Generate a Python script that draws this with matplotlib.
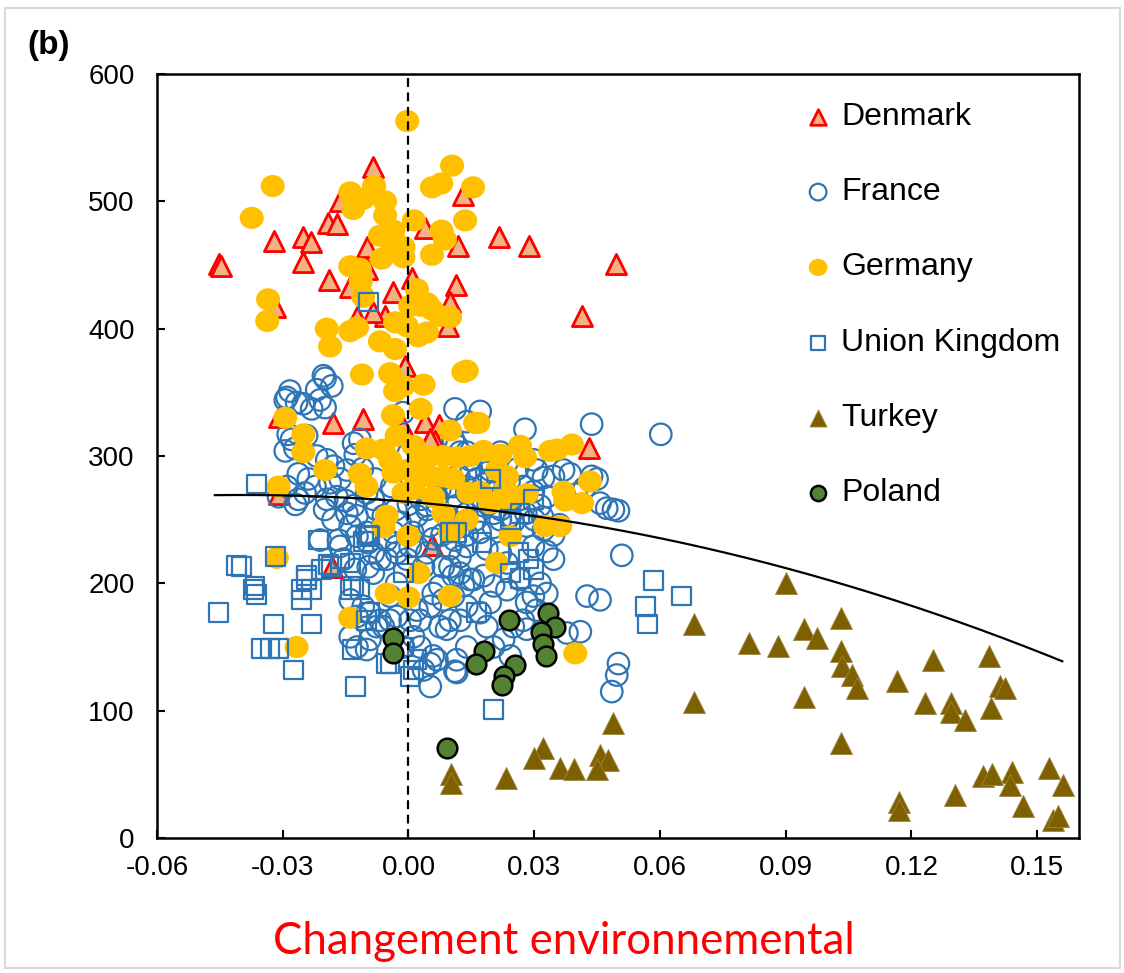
import matplotlib
matplotlib.use('Agg')
import numpy as np
import matplotlib.pyplot as plt
from matplotlib.patches import Rectangle
from matplotlib.path import Path

plt.rcParams['font.family'] = ['Liberation Sans', 'DejaVu Sans']

# environmental change (x) vs. value (y) per country
denmark_x = [-0.0085, 0.0131, -0.0163, -0.0191, -0.0171, 0.0040, -0.0321, -0.0252, -0.0232, 0.0119,
             -0.0100, -0.0451, -0.0448, -0.0252, -0.0098, -0.0190, 0.0008, 0.0114, -0.0036, -0.0139,
             0.0099, -0.0318, -0.0123, -0.0056, -0.0084, 0.0095, 0.0215, 0.0288, 0.0495, 0.0414,
             -0.0008, -0.0310, -0.0181, -0.0109, -0.0013, 0.0040, 0.0074, 0.0050, 0.0063, -0.0310,
             -0.0183, 0.0056, 0.0431, 0.0052]
denmark_y = [527, 505, 500, 483, 482, 479, 469, 472, 468, 465,
             464, 451, 449, 452, 447, 438, 440, 434, 429, 433,
             421, 417, 409, 410, 413, 402, 472, 465, 451, 410,
             371, 331, 326, 329, 323, 327, 324, 312, 312, 270,
             213, 230, 306, 313]

france_x = [-0.0199, -0.0183, -0.0283, -0.0294, -0.0267, -0.0211, -0.0199, -0.0231, -0.0219, -0.0251,
            0.0111, -0.0013, -0.0279, -0.0294, -0.0271, -0.0243, -0.0287, -0.0219, -0.0195, -0.0179,
            -0.0131, -0.0116, -0.0127, -0.0263, -0.0239, -0.0223, -0.0247, -0.0263, -0.0187, -0.0163,
            -0.0147, -0.0195, -0.0171, -0.0131, -0.0147, -0.0123, -0.0100, -0.0084, -0.0076, -0.0060,
            -0.0139, -0.0123, -0.0100, -0.0211, -0.0167, -0.0163, -0.0096, -0.0084, -0.0068, -0.0052,
            -0.0036, -0.0028, -0.0127, -0.0096, -0.0084, -0.0155, -0.0052, -0.0028, 0.0004, 0.0020,
            0.0044, 0.0059, 0.0044, 0.0068, 0.0091, 0.0115, 0.0139, 0.0044, 0.0075, 0.0107,
            0.0139, 0.0107, 0.0123, 0.0147, 0.0036, 0.0083, 0.0107, 0.0075, -0.0004, 0.0171,
            0.0139, 0.0278, 0.0437, 0.0115, 0.0139, 0.0219, 0.0235, 0.0195, 0.0298, 0.0306,
            0.0322, 0.0346, 0.0370, 0.0386, 0.0437, 0.0274, 0.0298, 0.0330, 0.0314, 0.0457,
            0.0473, 0.0489, 0.0501, 0.0509, 0.0139, 0.0163, 0.0187, 0.0163, 0.0179, 0.0203,
            0.0243, 0.0266, 0.0219, 0.0243, 0.0282, 0.0322, 0.0346, 0.0171, 0.0203, 0.0298,
            0.0330, 0.0346, 0.0099, 0.0123, 0.0139, 0.0187, 0.0219, 0.0235, 0.0099, 0.0123,
            0.0147, 0.0179, 0.0203, 0.0235, 0.0266, 0.0314, 0.0330, 0.0426, 0.0020, 0.0044,
            0.0068, 0.0602, 0.0457, 0.0501, 0.0497, 0.0485, 0.0410, 0.0378, 0.0298, 0.0282,
            0.0306, 0.0274, 0.0250, 0.0282, 0.0227, 0.0203, 0.0243, 0.0187, 0.0171, 0.0195,
            0.0139, 0.0123, 0.0131, 0.0155, 0.0139, 0.0115, 0.0111, 0.0052, 0.0052, 0.0059,
            0.0036, 0.0091, 0.0075, 0.0099, 0.0020, 0.0004, 0.0028, 0.0052, 0.0012, -0.0012,
            0.0028, 0.0059, 0.0083, 0.0107, -0.0044, -0.0060, -0.0139, -0.0108, -0.0123, -0.0092,
            -0.0068, -0.0076, -0.0139, -0.0123, -0.0100, -0.0092, -0.0028, 0.0068, 0.0115, -0.0028,
            -0.0044, 0.0000, 0.0030, 0.0060, 0.0080, 0.0120, 0.0150, 0.0180, 0.0210, 0.0240,
            0.0260, 0.0100, 0.0130, 0.0160, 0.0190, 0.0220, 0.0250, -0.0030, -0.0060, -0.0020,
            0.0010, 0.0050, 0.0080, 0.0110, 0.0140, -0.0150, -0.0180, -0.0200, -0.0080, -0.0040,
            -0.0110, 0.0280, 0.0300, 0.0320, 0.0360, 0.0400, 0.0420, -0.0290, -0.0310, -0.0270,
            0.0000, 0.0030, -0.0203, -0.0290, 0.0450]
france_y = [361, 355, 351, 344, 342, 344, 338, 337, 352, 341,
            337, 334, 313, 304, 306, 316, 317, 300, 297, 292,
            310, 313, 301, 286, 282, 276, 271, 266, 279, 282,
            289, 266, 268, 261, 255, 253, 271, 266, 258, 253,
            245, 237, 240, 234, 234, 229, 232, 224, 219, 234,
            240, 229, 211, 213, 208, 219, 219, 224, 229, 229,
            224, 235, 258, 263, 253, 261, 255, 271, 274, 276,
            271, 313, 303, 297, 213, 213, 206, 198, 219, 335,
            327, 321, 325, 308, 303, 303, 295, 289, 297, 289,
            283, 284, 289, 286, 284, 276, 272, 268, 261, 263,
            259, 258, 257, 222, 276, 282, 287, 266, 261, 255,
            263, 266, 250, 253, 245, 242, 238, 240, 244, 229,
            225, 219, 227, 221, 229, 227, 224, 216, 213, 208,
            203, 206, 198, 195, 203, 200, 192, 190, 253, 261,
            268, 317, 187, 137, 128, 115, 162, 161, 190, 185,
            179, 171, 166, 164, 156, 150, 143, 166, 177, 185,
            182, 171, 198, 203, 150, 140, 131, 119, 137, 143,
            132, 164, 166, 171, 179, 171, 171, 182, 158, 150,
            150, 192, 187, 190, 171, 166, 187, 182, 174, 177,
            171, 166, 158, 150, 148, 156, 174, 140, 130, 200,
            190, 262, 266, 275, 282, 285, 290, 278, 272, 280,
            290, 250, 245, 250, 262, 258, 248, 258, 245, 248,
            240, 245, 238, 234, 238, 265, 250, 258, 282, 276,
            290, 255, 250, 252, 246, 270, 275, 276, 268, 262,
            302, 294, 363, 346, 282]

germany_x = [-0.0003, -0.0324, -0.0374, 0.0104, 0.0056, 0.0078, 0.0154, -0.0139, -0.0082, -0.0108,
             -0.0132, -0.0056, -0.0056, 0.0013, 0.0135, 0.0079, 0.0087, -0.0068, -0.0036, -0.0012,
             -0.0012, -0.0064, -0.0037, 0.0056, -0.0139, -0.0116, -0.0114, -0.0335, -0.0337, -0.0108,
             0.0020, 0.0044, 0.0028, 0.0004, 0.0099, 0.0075, -0.0032, -0.0004, -0.0139, -0.0123,
             -0.0195, -0.0187, -0.0068, -0.0032, 0.0023, 0.0044, 0.0056, -0.0111, -0.0044, -0.0032,
             -0.0012, 0.0036, 0.0131, 0.0139, -0.0037, 0.0029, -0.0294, -0.0251, -0.0251, -0.0199,
             -0.0100, -0.0060, -0.0044, -0.0028, 0.0012, 0.0028, 0.0052, 0.0083, 0.0099, 0.0147,
             0.0159, -0.0116, -0.0100, -0.0036, -0.0004, 0.0020, 0.0052, 0.0083, 0.0107, -0.0310,
             -0.0012, 0.0012, 0.0059, 0.0143, -0.0052, -0.0060, 0.0000, 0.0083, 0.0099, 0.0107,
             -0.0314, 0.0167, 0.0179, 0.0219, 0.0266, 0.0278, 0.0338, 0.0354, 0.0390, 0.0115,
             0.0235, 0.0231, 0.0238, 0.0370, 0.0374, 0.0414, 0.0433, 0.0282, 0.0195, 0.0171,
             0.0139, 0.0243, 0.0326, 0.0362, 0.0211, 0.0211, -0.0267, -0.0139, -0.0052, 0.0000,
             0.0024, 0.0099, 0.0398]
germany_y = [563, 512, 487, 528, 511, 514, 511, 507, 512, 502,
             494, 500, 489, 485, 485, 477, 470, 473, 477, 464,
             456, 455, 465, 458, 449, 447, 437, 423, 406, 425,
             431, 420, 418, 418, 409, 410, 405, 402, 398, 401,
             400, 386, 390, 384, 394, 397, 415, 364, 365, 351,
             355, 356, 366, 367, 332, 337, 330, 317, 303, 289,
             306, 305, 297, 316, 308, 297, 300, 300, 320, 300,
             326, 286, 276, 287, 289, 282, 284, 284, 282, 276,
             271, 274, 268, 271, 253, 244, 237, 255, 240, 242,
             220, 326, 304, 301, 308, 299, 304, 305, 309, 299,
             284, 274, 266, 272, 265, 263, 280, 270, 263, 272,
             250, 237, 245, 245, 216, 289, 150, 173, 192, 189,
             208, 190, 145]

uk_x = [-0.0410, -0.0454, -0.0366, -0.0362, -0.0322, -0.0350, -0.0330, -0.0310, -0.0318, -0.0275,
        -0.0231, -0.0255, -0.0255, -0.0243, -0.0207, -0.0183, -0.0215, -0.0127, -0.0135, -0.0100,
        -0.0092, -0.0116, -0.0139, -0.0108, -0.0092, -0.0052, -0.0012, 0.0012, -0.0012, 0.0099,
        0.0115, 0.0163, -0.0362, -0.0191, -0.0163, -0.0139, -0.0243, -0.0231, -0.0370, -0.0398,
        -0.0096, -0.0131, 0.0195, 0.0243, 0.0266, 0.0298, 0.0175, 0.0262, 0.0286, 0.0243,
        0.0266, 0.0585, 0.0652, 0.0565, 0.0571, 0.0203, 0.0298, 0.0020, 0.0004, -0.0044,
        -0.0096]
uk_y = [214, 177, 198, 191, 168, 149, 149, 149, 221, 132,
        168, 187, 195, 203, 211, 213, 234, 119, 148, 171,
        177, 195, 195, 233, 237, 137, 150, 132, 208, 240,
        240, 177, 278, 215, 219, 216, 206, 195, 195, 213,
        238, 198, 282, 250, 255, 266, 232, 224, 219, 208,
        204, 202, 190, 182, 168, 101, 211, 140, 127, 137,
        421]

turkey_x = [0.0900, 0.0681, 0.1032, 0.0944, 0.0975, 0.0813, 0.0882, 0.1032, 0.1034, 0.1059,
            0.1070, 0.1251, 0.1384, 0.1165, 0.1412, 0.1424, 0.1233, 0.1295, 0.1295, 0.1328,
            0.1390, 0.0681, 0.0944, 0.1032, 0.1171, 0.1171, 0.1304, 0.1372, 0.1392, 0.1440,
            0.1436, 0.1529, 0.1561, 0.1466, 0.1537, 0.1549, 0.0488, 0.0320, 0.0300, 0.0362,
            0.0394, 0.0456, 0.0477, 0.0449, 0.0101, 0.0101, 0.0232]
turkey_y = [200, 168, 173, 164, 157, 153, 151, 147, 135, 128,
            118, 140, 143, 123, 119, 118, 106, 106, 99, 93,
            102, 107, 111, 75, 28, 22, 34, 49, 50, 52,
            42, 55, 42, 25, 14, 17, 90, 71, 63, 55,
            54, 65, 61, 54, 50, 43, 47]

poland_x = [-0.0037, -0.0037, 0.0241, 0.0334, 0.0350, 0.0316, 0.0322, 0.0328, 0.0180, 0.0161,
            0.0254, 0.0228, 0.0224, 0.0093]
poland_y = [157, 145, 171, 177, 166, 162, 152, 143, 147, 137,
            136, 127, 120, 71]

# quadratic trend (intercept, slope, curvature) and its x range
trend_coef = [264.0, -271.0, -3407.0]
trend_range = [-0.0462, 0.156]

x_ticks = [-0.06, -0.03, 0.00, 0.03, 0.06, 0.09, 0.12, 0.15]
y_ticks = [0, 100, 200, 300, 400, 500, 600]

# yellow dots are a touch wider than tall
_circ = Path.unit_circle()
wide_dot = Path(_circ.vertices * [1.0, 0.92], _circ.codes)

blue = '#2E75B6'
series = [
    ('Denmark', denmark_x, denmark_y, dict(marker='^', s=210, facecolors='#F4B183', edgecolors='#FF0000', linewidths=2.0)),
    ('France', france_x, france_y, dict(marker='o', s=240, facecolors='none', edgecolors=blue, linewidths=1.6)),
    ('Germany', germany_x, germany_y, dict(marker=wide_dot, s=300, facecolors='#FFC000', edgecolors='none')),
    ('Union Kingdom', uk_x, uk_y, dict(marker='s', s=180, facecolors='none', edgecolors=blue, linewidths=1.6)),
    ('Turkey', turkey_x, turkey_y, dict(marker='^', s=250, facecolors='#7F6000', edgecolors='#9C8540', linewidths=0.6)),
    ('Poland', poland_x, poland_y, dict(marker='o', s=200, facecolors='#548235', edgecolors='black', linewidths=1.8)),
]

fig = plt.figure(figsize=(11.24, 9.73), dpi=100)
ax = fig.add_axes([0.1397, 0.1387, 0.8203, 0.7853])

for name, xs, ys, style in series:
    ax.scatter(xs, ys, zorder=2, **style)

tx = np.linspace(trend_range[0], trend_range[1], 200)
ty = trend_coef[0] + trend_coef[1] * tx + trend_coef[2] * tx ** 2
ax.plot(tx, ty, color='black', lw=1.6, zorder=3)
ax.axvline(0, color='black', lw=1.6, ls=(0, (4, 2.5)), zorder=3)

ax.set_xlim(-0.06, 0.16)
ax.set_ylim(0, 600)
ax.set_xticks(x_ticks)
ax.set_xticklabels([f'{t:.2f}' for t in x_ticks])
ax.set_yticks(y_ticks)
ax.tick_params(direction='in', length=6, width=1.5, labelsize=20, top=False, right=False)
ax.tick_params(axis='x', pad=12)
ax.tick_params(axis='y', pad=16)
for sp in ax.spines.values():
    sp.set_linewidth(1.8)

# hand-placed legend inside the axes
for i, (name, xs, ys, style) in enumerate(series):
    ly = 0.944 - i * 0.0986
    st = dict(style)
    st['s'] = style['s'] * 0.6
    ax.scatter([0.717], [ly], transform=ax.transAxes, clip_on=False, zorder=4, **st)
    ax.text(0.742, ly, name, transform=ax.transAxes, fontsize=23, va='center', ha='left', zorder=4)

fig.text(0.024, 0.953, '(b)', fontsize=24, fontweight='bold', ha='left', va='center')
fig.text(0.502, 0.032, 'Changement environnemental', fontsize=31.5, color='#FF0000',
         ha='center', va='center', family=['Lato', 'DejaVu Sans'])

fig.add_artist(Rectangle((0.0045, 0.005), 0.992, 0.987, transform=fig.transFigure,
                         fill=False, edgecolor='#d9d9d9', lw=1.5))

fig.savefig('out.png', dpi=100)
